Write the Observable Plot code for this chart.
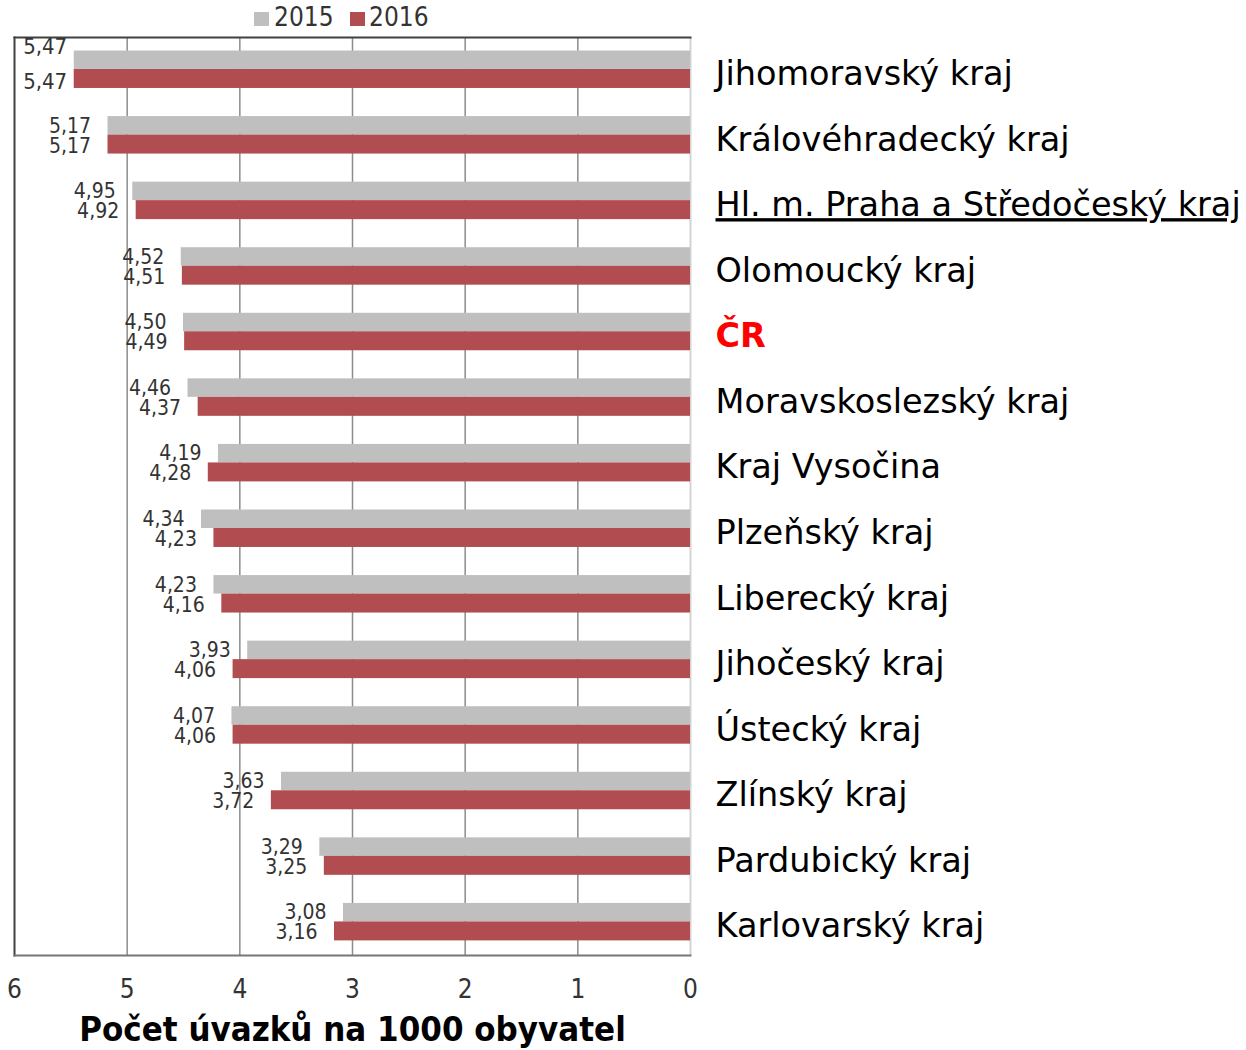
<!DOCTYPE html>
<html>
<head>
<meta charset="utf-8">
<script src="https://cdn.jsdelivr.net/npm/d3@7"></script>
<script src="https://cdn.jsdelivr.net/npm/@observablehq/plot@0.6"></script>
<style>
  html, body { margin: 0; padding: 0; background: #fff; }
  body { width: 1246px; height: 1050px; overflow: hidden; font-family: "DejaVu Sans Condensed", "DejaVu Sans", sans-serif; }
  #legend { position: relative; height: 30px; width: 1246px; }
  .lg { position: absolute; top: 2px; font-size: 26px; color: #333; line-height: 30px; }
  .sw { position: absolute; top: 12px; width: 15px; height: 14px; }
  #chart svg { display: block; }
</style>
</head>
<body>
<div id="legend">
  <div class="sw" style="left:254px;background:#bfbfbf"></div>
  <div class="lg" style="left:274px">2015</div>
  <div class="sw" style="left:350px;background:#b14d50"></div>
  <div class="lg" style="left:369px">2016</div>
</div>
<div id="chart"></div>
<script>
const categories = ["Jihomoravský kraj","Královéhradecký kraj","Hl. m. Praha a Středočeský kraj","Olomoucký kraj","ČR","Moravskoslezský kraj","Kraj Vysočina","Plzeňský kraj","Liberecký kraj","Jihočeský kraj","Ústecký kraj","Zlínský kraj","Pardubický kraj","Karlovarský kraj"];
const v2015 = [5.47,5.17,4.95,4.52,4.50,4.46,4.19,4.34,4.23,3.93,4.07,3.63,3.29,3.08];
const v2016 = [5.47,5.17,4.92,4.51,4.49,4.37,4.28,4.23,4.16,4.06,4.06,3.72,3.25,3.16];
const xTicks = [6,5,4,3,2,1,0];
const gridTicks = [5,4,3,2,1];
const axisTitle = "Počet úvazků na 1000 obyvatel";
const highlight = "ČR";
const underlined = "Hl. m. Praha a Středočeský kraj";

const rows = categories.map((c, i) => ({cat: c, v15: v2015[i], v16: v2016[i]}));
const fmt = v => d3.format(".2f")(v).replace(".", ",");
const COND = '"DejaVu Sans Condensed", "DejaVu Sans", sans-serif';
const WIDE = '"DejaVu Sans", sans-serif';

const chart = Plot.plot({
  width: 1246,
  height: 1020,
  marginTop: 7,
  marginBottom: 95,
  marginLeft: 14,
  marginRight: 556,
  style: {fontFamily: COND, background: "#fff", overflow: "visible"},
  x: {domain: [0, 6], reverse: true},
  y: {domain: categories, padding: 0, round: false, axis: null},
  marks: [
    Plot.ruleX(gridTicks, {stroke: "#8c8c8c", strokeWidth: 1.5}),
    Plot.ruleX([0], {stroke: "#d4d4d4", strokeWidth: 2}),
    Plot.barX(rows, {y: "cat", x: "v15", fill: "#bfbfbf", insetTop: 13.5, insetBottom: 33.6}),
    Plot.barX(rows, {y: "cat", x: "v16", fill: "#b14d50", insetTop: 32, insetBottom: 14.6}),
    Plot.frame({anchor: "left", stroke: "#404040", strokeWidth: 2}),
    Plot.frame({anchor: "top", stroke: "#404040", strokeWidth: 2}),
    Plot.frame({anchor: "bottom", stroke: "#777", strokeWidth: 2}),
    // value labels (first row placed differently, as in the original)
    Plot.text(rows.slice(0, 1), {x: "v15", y: "cat", text: d => fmt(d.v15), dx: -7, dy: -23, textAnchor: "end", fontSize: 22, fill: "#333"}),
    Plot.text(rows.slice(0, 1), {x: "v16", y: "cat", text: d => fmt(d.v16), dx: -7, dy: 12, textAnchor: "end", fontSize: 22, fill: "#333"}),
    Plot.text(rows.slice(1), {x: "v15", y: "cat", text: d => fmt(d.v15), dx: -17, dy: -10, textAnchor: "end", fontSize: 21, fill: "#333"}),
    Plot.text(rows.slice(1), {x: "v16", y: "cat", text: d => fmt(d.v16), dx: -17, dy: 10, textAnchor: "end", fontSize: 21, fill: "#333"}),
    // category labels
    Plot.text(rows.filter(d => d.cat !== highlight), {x: 0, y: "cat", text: "cat", dx: 25, dy: 4, textAnchor: "start", fontSize: 33.5, fontFamily: WIDE, fill: "#000"}),
    Plot.text(rows.filter(d => d.cat === highlight), {x: 0, y: "cat", text: "cat", dx: 25, dy: 4, textAnchor: "start", fontSize: 33.5, fontFamily: WIDE, fill: "#ff0000", fontWeight: "bold"}),
    Plot.axisX({ticks: xTicks, tickSize: 0, tickPadding: 24, fontSize: 26, tickFormat: d => String(d), label: null, color: "#333"}),
    Plot.text([axisTitle], {frameAnchor: "bottom", dy: 85, fontSize: 34.5, fontWeight: "bold", fill: "#000"})
  ]
});

d3.select(chart).selectAll("text").filter(function() { return this.textContent === underlined; })
  .style("text-decoration", "underline");

document.getElementById("chart").appendChild(chart);
</script>
</body>
</html>
